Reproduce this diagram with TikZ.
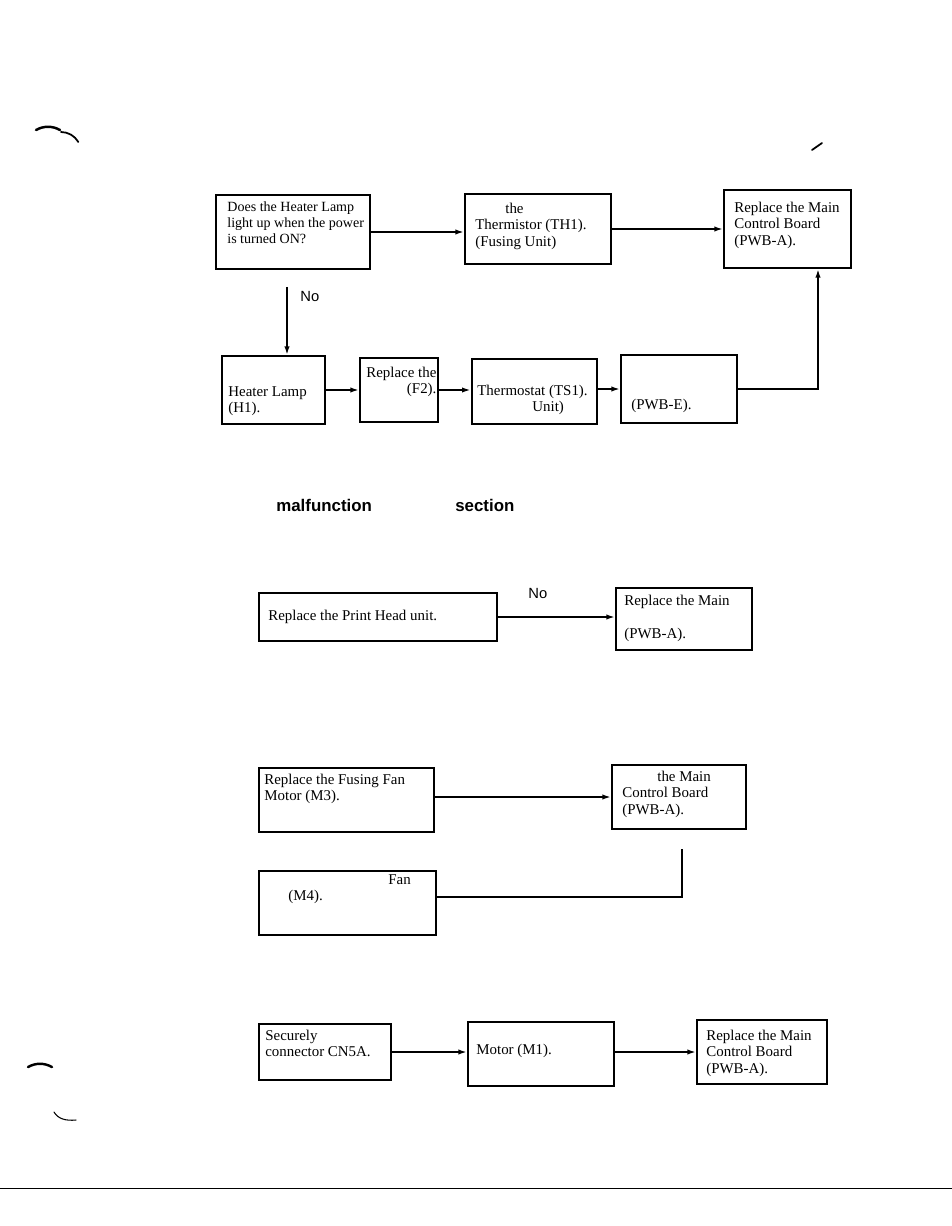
\documentclass[tikz,border=0pt]{standalone}
\usepackage{fontspec}
\setmainfont{Liberation Serif}
\setsansfont{Liberation Sans}
\usepackage{tikz}
\usetikzlibrary{arrows.meta}
\usetikzlibrary{fit}

\begin{document}
\begin{tikzpicture}[x = 0.02cm, y = -0.02cm,
    box/.style = {draw, line width = 0.9pt, inner sep = 0pt},
    txt/.style = {inner sep = 0pt, align = left, font = \fontsize{8.5}{9.2}\selectfont},
    lbl/.style = {inner sep = 0pt, anchor = west, font = \sffamily\fontsize{8.4}{9.2}\selectfont},
    arr/.style = {line width = 1.1pt, -{Latex[length = 5pt, width = 3pt]}},
    speck/.style = {line width = 1pt, line cap = round}]
    \useasboundingbox (0,0) rectangle (952,1226);

    % heater lamp check
    \begin{scope}
        \node[box, fit = {(216,195) (370,269)}] (qbox) {};
        \node[box, fit = {(465,194) (611,264)}] (thermbox) {};
        \node[box, fit = {(724,190) (851,268)}] (mainbox1) {};
        \node[box, fit = {(222,356) (325,424)}] (lampbox) {};
        \node[box, fit = {(360,358) (438,422)}] (fusebox) {};
        \node[box, line width = 1.3pt, fit = {(472,359) (597,424)}] (tstatbox) {};
        \node[box, fit = {(621,355) (737,423)}] (pwbebox) {};

        \node[txt, anchor = north west, font = \fontsize{8.0}{9.2}\selectfont] (qtext) at (227,201) {Does the Heater Lamp\\light up when the power\\is turned ON?};
        \node[txt, anchor = north west] (thermtext) at (475,203) {\hspace*{0.6cm}the\\Thermistor (TH1).\\(Fusing Unit)};
        \node[txt, anchor = north west] (maintext1) at (734,202) {Replace the Main\\Control Board\\(PWB-A).};
        \node[txt, anchor = north west] (lamptext) at (228,386) {Heater Lamp\\(H1).};
        \node[txt, anchor = north west, align = right] (fusetext) at (366,367) {Replace the\\(F2).};
        \node[txt, anchor = north west] (tstattext) at (477,385) {Thermostat (TS1).\\\hspace*{1.1cm}Unit)};
        \node[txt, anchor = west] (pwbetext) at (631,406) {(PWB-E).};
        \node[lbl] (nolbl1) at (300,296) {No};

        \coordinate (nostart) at (287,287);
        \draw[arr] (qbox.east) -- (qbox.east -| thermbox.west);
        \draw[arr] (thermbox.east) -- (thermbox.east -| mainbox1.west);
        \draw[arr] (nostart) -- (nostart |- lampbox.north);
        \draw[arr] (lampbox.east) -- (lampbox.east -| fusebox.west);
        \draw[arr] (fusebox.east) -- (fusebox.east -| tstatbox.west);
        \draw[arr] ([yshift = 0.05cm]tstatbox.east) -- ([yshift = 0.05cm]tstatbox.east -| pwbebox.west);
        \draw[arr] (pwbebox.east) -| ([xshift = 0.61cm]mainbox1.south);
    \end{scope}

    % heading
    \node[inner sep = 0pt, anchor = west, font = \sffamily\bfseries\fontsize{9.6}{11}\selectfont] (head1) at (276,505) {malfunction};
    \node[inner sep = 0pt, anchor = west, font = \sffamily\bfseries\fontsize{9.6}{11}\selectfont] (head2) at (455,505) {section};

    % print head
    \node[box, fit = {(259,593) (497,641)}] (headbox) {};
    \node[box, fit = {(616,588) (752,650)}] (mainbox2) {};
    \node[txt, anchor = west] (headtext) at (268,617) {Replace the Print Head unit.};
    \node[txt, anchor = north west] (maintext2) at (624,595) {Replace the Main\\\mbox{}\\(PWB-A).};
    \node[lbl] (nolbl2) at (528,593) {No};
    \draw[arr] (headbox.east) -- (headbox.east -| mainbox2.west);

    % fan motors
    \node[box, fit = {(259,768) (434,832)}] (fanbox1) {};
    \node[box, fit = {(612,765) (746,829)}] (mainbox3) {};
    \node[box, fit = {(259,871) (436,935)}] (fanbox2) {};
    \node[txt, anchor = north west] (fantext1) at (264,774) {Replace the Fusing Fan\\Motor (M3).};
    \node[txt, anchor = north west] (maintext3) at (622,771) {\hspace*{0.7cm}the Main\\Control Board\\(PWB-A).};
    \node[txt, anchor = north west] (fantext2) at (288,874) {\hspace*{2cm}Fan\\(M4).};
    \coordinate (fanend) at (682,849);
    \draw[arr] (mainbox3.west -| fanbox1.east) -- (mainbox3.west);
    \draw[line width = 1.1pt] ([yshift = 0.12cm]fanbox2.east) -| (fanend);

    % main motor
    \node[box, fit = {(259,1024) (391,1080)}] (connbox) {};
    \node[box, fit = {(468,1022) (614,1086)}] (motorbox) {};
    \node[box, fit = {(697,1020) (827,1084)}] (mainbox4) {};
    \node[txt, anchor = north west] (conntext) at (265,1030) {Securely\\connector CN5A.};
    \node[txt, anchor = west] (motortext) at (476,1051) {Motor (M1).};
    \node[txt, anchor = north west] (maintext4) at (706,1030) {Replace the Main\\Control Board\\(PWB-A).};
    \draw[arr] (connbox.east) -- (connbox.east -| motorbox.west);
    \draw[arr] (mainbox4.west -| motorbox.east) -- (mainbox4.west);

    % page marks
    \draw[speck, line width = 1.4pt] (36,130) arc (240:300:24);
    \draw[speck] (61,132) arc (270:330:20);
    \draw[speck] (812,150) -- (822,143);
    \draw[speck, line width = 1.4pt] (28,1067) arc (240:300:24);
    \draw[speck, line width = 0.6pt] (54,1112) .. controls (58,1119) and (66,1121) .. (76,1120);
    \draw[line width = 0.4pt] (0,1188) -- (952,1188);
\end{tikzpicture}
\end{document}
